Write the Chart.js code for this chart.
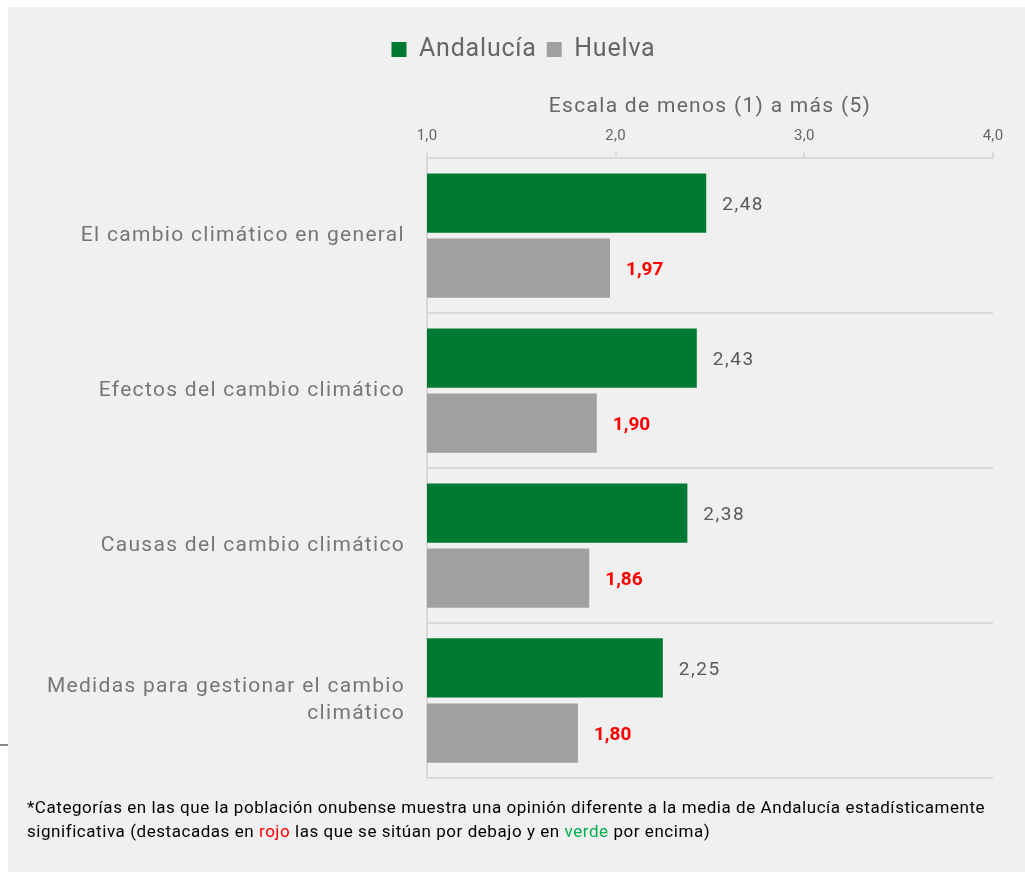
<!DOCTYPE html>
<html><head><meta charset="utf-8">
<script src="https://cdn.jsdelivr.net/npm/chart.js@4.4.0/dist/chart.umd.min.js"></script>
<style>
html,body{margin:0;padding:0;background:#fff;width:1025px;height:872px;overflow:hidden;font-family:Roboto,"DejaVu Sans",sans-serif;}
#panel{position:absolute;left:8px;top:7px;width:1017px;height:865px;background:#f0f0f0;}
#tick{position:absolute;left:0;top:744px;width:8px;height:2px;background:#8c8c8c;}
#wrap{position:absolute;left:0;top:0;width:1025px;height:872px;}
#note{position:absolute;left:27px;top:795px;width:995px;font-size:17px;letter-spacing:0.55px;line-height:24px;color:#000;}
.r{color:#ff0000}.g{color:#00b050}
</style></head><body>
<div id="panel"></div><div id="tick"></div>
<div id="wrap"><canvas id="c" width="1025" height="872"></canvas></div>
<div id="note">*Categorías en las que la población onubense muestra una opinión diferente a la media de Andalucía estadísticamente significativa (destacadas en <span class="r">rojo</span> las que se sitúan por debajo y en <span class="g">verde</span> por encima)</div>
<script>
const categories = [
  'El cambio climático en general',
  'Efectos del cambio climático',
  'Causas del cambio climático',
  ['Medidas para gestionar el cambio', 'climático']
];
const andalucia = [2.48, 2.43, 2.38, 2.25];
const huelva = [1.97, 1.90, 1.86, 1.80];
const seriesNames = ['Andalucía', 'Huelva'];
const axisTitle = 'Escala de menos (1) a más (5)';
const xMin = 1, xMax = 4;

const FONT = 'Roboto, "DejaVu Sans", sans-serif';
const fmt = v => v.toFixed(2).replace('.', ',');

function withSpacing(obj, name, sp, dx) {
  const orig = obj[name];
  obj[name] = function (...args) {
    const ctx = this.ctx;
    const prev = ctx.letterSpacing;
    ctx.letterSpacing = sp;
    if (dx) { ctx.save(); ctx.translate(dx, 0); }
    const r = orig.apply(this, args);
    if (dx) ctx.restore();
    ctx.letterSpacing = prev;
    return r;
  };
}

const spacingPlugin = {
  id: 'spacing',
  beforeInit(chart) {
    chart.ctx.letterSpacing = '0px';
    const legend = chart.legend;
    if (legend) {
      const origFit = legend.fit;
      legend.fit = function () { origFit.call(this); this.height += 22; };
      withSpacing(legend, 'fit', '0.8px');
      withSpacing(legend, 'draw', '0.8px', 27);
    }
  },
  afterUpdate(chart) {
    const y = chart.scales.y, x = chart.scales.x;
    if (y && !y._sp) { y._sp = true; withSpacing(y, 'drawLabels', '1.3px'); }
    if (x && !x._sp) { x._sp = true; withSpacing(x, 'drawTitle', '1.3px'); withSpacing(x, 'drawLabels', '0.3px'); }
  }
};

const labelPlugin = {
  id: 'vlabels',
  afterDatasetsDraw(chart) {
    const ctx = chart.ctx;
    ctx.save();
    chart.data.datasets.forEach((ds, i) => {
      const meta = chart.getDatasetMeta(i);
      meta.data.forEach((bar, j) => {
        if (i === 1) {
          ctx.font = 'bold 19px ' + FONT;
          ctx.fillStyle = '#ff0000';
          ctx.letterSpacing = '0px';
        } else {
          ctx.font = '400 19px ' + FONT;
          ctx.fillStyle = '#595959';
          ctx.letterSpacing = '1.5px';
        }
        ctx.textAlign = 'left';
        ctx.textBaseline = 'middle';
        ctx.fillText(fmt(ds.data[j]), bar.x + 16, bar.y + 2);
      });
    });
    ctx.restore();
  }
};

new Chart(document.getElementById('c'), {
  type: 'bar',
  data: {
    labels: categories,
    datasets: [
      { label: seriesNames[0], data: andalucia, backgroundColor: '#007a33', borderWidth: 0 },
      { label: seriesNames[1], data: huelva, backgroundColor: '#a0a09e', borderWidth: 0 }
    ]
  },
  options: {
    indexAxis: 'y',
    responsive: false,
    animation: false,
    layout: { padding: { top: 27, right: 32, bottom: 94, left: 0 } },
    datasets: { bar: { categoryPercentage: 0.84, barPercentage: 0.91 } },
    plugins: {
      legend: {
        position: 'top',
        labels: {
          boxWidth: 15, boxHeight: 15, padding: 10,
          color: '#666666',
          font: { size: 25, family: FONT }
        }
      },
      tooltip: { enabled: false }
    },
    scales: {
      x: {
        position: 'top',
        min: xMin, max: xMax,
        ticks: {
          stepSize: 1, color: '#666666', padding: 7,
          font: { size: 15, family: FONT },
          callback: v => v.toFixed(1).replace('.', ',')
        },
        grid: { drawOnChartArea: false, drawTicks: true, tickLength: 6, color: '#d9d9d9', lineWidth: 2 },
        border: { color: '#d9d9d9', width: 2 },
        title: {
          display: true, text: axisTitle, color: '#666666',
          font: { size: 21, family: FONT },
          padding: { top: 0, bottom: 1 }
        }
      },
      y: {
        ticks: {
          color: '#767676', padding: 22,
          font: { size: 21, family: FONT, lineHeight: 1.3 }
        },
        grid: { color: '#d9d9d9', lineWidth: 2, drawTicks: false },
        border: { color: '#d9d9d9', width: 2 },
        afterFit(scale) { scale.width = 427; }
      }
    }
  },
  plugins: [spacingPlugin, labelPlugin]
});
</script>
</body></html>
